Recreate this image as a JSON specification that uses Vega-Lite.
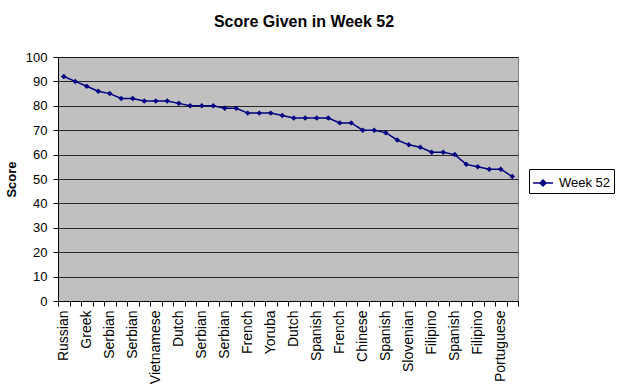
{
  "$schema": "https://vega.github.io/schema/vega-lite/v6.json",
  "autosize": {"type": "none"},
  "padding": {"left": 58, "top": 57, "right": 102, "bottom": 88},
  "width": 460,
  "height": 244,
  "background": "white",
  "title": {
    "text": "Score Given in Week 52",
    "anchor": "middle",
    "dx": 16,
    "offset": 21,
    "font": "Liberation Sans",
    "fontSize": 16,
    "fontWeight": "bold",
    "color": "#000000"
  },
  "config": {
    "view": {"fill": "#c0c0c0", "stroke": "#808080", "strokeWidth": 1},
    "axis": {
      "labelFont": "Liberation Sans",
      "labelFontSize": 13,
      "labelColor": "#000000",
      "titleFont": "Liberation Sans",
      "titleColor": "#000000",
      "domainColor": "#000000",
      "tickColor": "#000000",
      "tickSize": 5
    }
  },
  "data": {
    "values": [
      {"key": "01 Russian", "score": 92},
      {"key": "02", "score": 90},
      {"key": "03 Greek", "score": 88},
      {"key": "04", "score": 86},
      {"key": "05 Serbian", "score": 85},
      {"key": "06", "score": 83},
      {"key": "07 Serbian", "score": 83},
      {"key": "08", "score": 82},
      {"key": "09 Vietnamese", "score": 82},
      {"key": "10", "score": 82},
      {"key": "11 Dutch", "score": 81},
      {"key": "12", "score": 80},
      {"key": "13 Serbian", "score": 80},
      {"key": "14", "score": 80},
      {"key": "15 Serbian", "score": 79},
      {"key": "16", "score": 79},
      {"key": "17 French", "score": 77},
      {"key": "18", "score": 77},
      {"key": "19 Yoruba", "score": 77},
      {"key": "20", "score": 76},
      {"key": "21 Dutch", "score": 75},
      {"key": "22", "score": 75},
      {"key": "23 Spanish", "score": 75},
      {"key": "24", "score": 75},
      {"key": "25 French", "score": 73},
      {"key": "26", "score": 73},
      {"key": "27 Chinese", "score": 70},
      {"key": "28", "score": 70},
      {"key": "29 Spanish", "score": 69},
      {"key": "30", "score": 66},
      {"key": "31 Slovenian", "score": 64},
      {"key": "32", "score": 63},
      {"key": "33 Filipino", "score": 61},
      {"key": "34", "score": 61},
      {"key": "35 Spanish", "score": 60},
      {"key": "36", "score": 56},
      {"key": "37 Filipino", "score": 55},
      {"key": "38", "score": 54},
      {"key": "39 Portuguese", "score": 54},
      {"key": "40", "score": 51}
    ]
  },
  "mark": {
    "type": "line",
    "strokeWidth": 1.5,
    "point": {"shape": "diamond", "size": 30, "filled": true, "color": "#000080"}
  },
  "encoding": {
    "x": {
      "field": "key",
      "type": "ordinal",
      "sort": null,
      "scale": {"type": "band", "paddingInner": 0, "paddingOuter": 0},
      "axis": {
        "title": null,
        "labelExpr": "substring(datum.label, 3)",
        "labelFontSize": 14,
        "labelAngle": 270,
        "labelAlign": "right",
        "labelBaseline": "middle",
        "labelPadding": 4,
        "labelOverlap": false,
        "tickBand": "extent",
        "grid": false
      }
    },
    "y": {
      "field": "score",
      "type": "quantitative",
      "scale": {"domain": [0, 100], "nice": false},
      "axis": {
        "values": [0, 10, 20, 30, 40, 50, 60, 70, 80, 90, 100],
        "title": "Score",
        "titleFontSize": 13,
        "titleFontWeight": "bold",
        "titleAngle": 270,
        "titleX": -47,
        "titleY": 122,
        "titleAlign": "center",
        "titleBaseline": "middle",
        "labelPadding": 6,
        "grid": true,
        "gridColor": "#000000",
        "gridOpacity": 0.8,
        "gridWidth": 1
      }
    },
    "color": {
      "datum": "Week 52",
      "type": "nominal",
      "scale": {"range": ["#000080"]},
      "legend": {
        "title": null,
        "orient": "none",
        "legendX": 471,
        "legendY": 112,
        "padding": 3,
        "strokeColor": "#000000",
        "fillColor": "#ffffff",
        "symbolType": "M-1,0H1M0,-0.3L0.3,0L0,0.3L-0.3,0Z",
        "symbolSize": 400,
        "symbolStrokeWidth": 1.5,
        "symbolFillColor": "#000080",
        "symbolStrokeColor": "#000080",
        "labelFont": "Liberation Sans",
        "labelFontSize": 13,
        "labelColor": "#000000",
        "labelOffset": 5
      }
    }
  }
}
